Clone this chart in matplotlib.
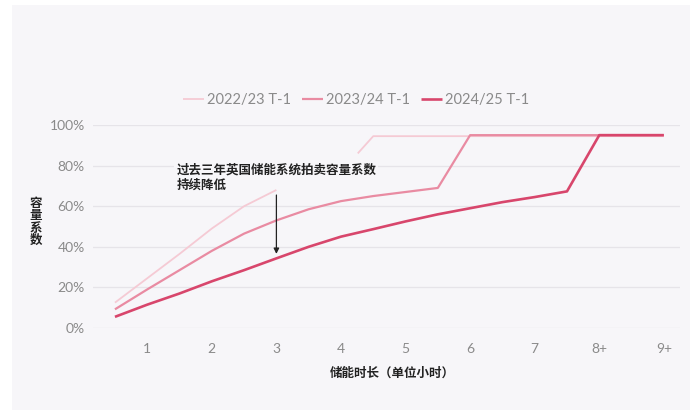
import numpy as np
import matplotlib
matplotlib.use("Agg")
import matplotlib.pyplot as plt
from matplotlib.patches import Rectangle

plt.rcParams['font.family'] = ['Lato', 'Noto Sans CJK SC', 'DejaVu Sans']

# capacity factor (%) by storage duration (hours), T-1 auctions
# (2022/23 series breaks where the note sits over it)
x_2223 = [0.5, 1, 1.5, 2, 2.5, 3, np.nan, 4.26, 4.5, 9]
y_2223 = [12.5, 24.5, 36.5, 49, 60, 68, np.nan, 86, 94.5, 94.5]

x_2324 = [0.5, 1, 1.5, 2, 2.5, 3, 3.5, 4, 4.5, 5, 5.5, 6, 9]
y_2324 = [9.2, 19, 28.5, 38, 46.5, 53, 58.5, 62.5, 65, 67, 69, 95, 95]

x_2425 = [0.5, 1, 1.5, 2, 2.5, 3, 3.5, 4, 4.5, 5, 5.5, 6, 6.5, 7, 7.5, 8, 9]
y_2425 = [5.5, 11.5, 17, 23, 28.5, 34.3, 40, 45, 48.7, 52.5, 56, 59, 62,
          64.5, 67.3, 95, 95]

tick_pos = [1, 2, 3, 4, 5, 6, 7, 8, 9]
tick_labels = ['1', '2', '3', '4', '5', '6', '7', '8+', '9+']
y_ticks = [0, 20, 40, 60, 80, 100]

bg = '#F7F6F9'
fig = plt.figure(figsize=(6.94, 4.12), dpi=100, facecolor='white')
fig.patches.append(Rectangle((12 / 694, 2 / 412), 678 / 694, 405 / 412,
                             transform=fig.transFigure, facecolor=bg,
                             edgecolor='none', zorder=-10))

ax = fig.add_axes([93 / 694, 84 / 412, 587 / 694, 203 / 412])
ax.set_facecolor('none')
ax.set_xlim(0.16, 9.25)
ax.set_ylim(0, 100)

ax.plot(x_2223, y_2223, color='#F5CAD4', lw=1.3, label='2022/23 T-1',
        zorder=2, solid_capstyle='butt')
ax.plot(x_2324, y_2324, color='#E98BA2', lw=1.6, label='2023/24 T-1',
        zorder=3, solid_capstyle='butt')
ax.plot(x_2425, y_2425, color='#D8466C', lw=1.9, label='2024/25 T-1',
        zorder=4, solid_capstyle='butt')

ax.set_yticks(y_ticks)
ax.set_yticklabels([f'{v}%' for v in y_ticks])
ax.set_xticks(tick_pos)
ax.set_xticklabels(tick_labels)
ax.tick_params(axis='both', length=0, colors='#8a8a8a', labelsize=10)
ax.tick_params(axis='x', pad=11)
ax.tick_params(axis='y', pad=6)
ax.grid(axis='y', color='#E6E4E9', lw=0.9)
ax.set_axisbelow(True)
for s in ax.spines.values():
    s.set_visible(False)

ax.set_xlabel('储能时长（单位小时）', fontsize=9, fontweight='bold',
              family=['Noto Sans CJK SC'], color='#222222', labelpad=6)
ax.xaxis.set_label_coords(0.51, -0.19)
fig.text(36 / 694, 1 - 222 / 412, '容\n量\n系\n数', fontsize=9,
         fontweight='bold', family=['Noto Sans CJK SC'], color='#222222',
         ha='center', va='center', linespacing=0.95)

# note box sits above the grid but under the series lines
ax.text(1.45, 81, '过去三年英国储能系统拍卖容量系数\n持续降低', fontsize=9,
        fontweight='bold', family=['Noto Sans CJK SC'], color='#222222',
        ha='left', va='top', linespacing=1.2, zorder=1.5,
        bbox=dict(boxstyle='square,pad=0.15', facecolor=bg,
                  edgecolor='none'))
ax.annotate('', xy=(3, 36.5), xytext=(3, 65.5), zorder=6,
            arrowprops=dict(arrowstyle='-|>', color='#222222', lw=0.9,
                            mutation_scale=8, shrinkA=0, shrinkB=0))

leg = fig.legend(loc='center', bbox_to_anchor=(356 / 694, 1 - 100 / 412),
                 ncol=3, frameon=False, fontsize=10.5, handlelength=1.4,
                 handletextpad=0.2, columnspacing=0.8)
for t in leg.get_texts():
    t.set_color('#8a8a8a')

fig.savefig('out.png', dpi=100, facecolor='white')
